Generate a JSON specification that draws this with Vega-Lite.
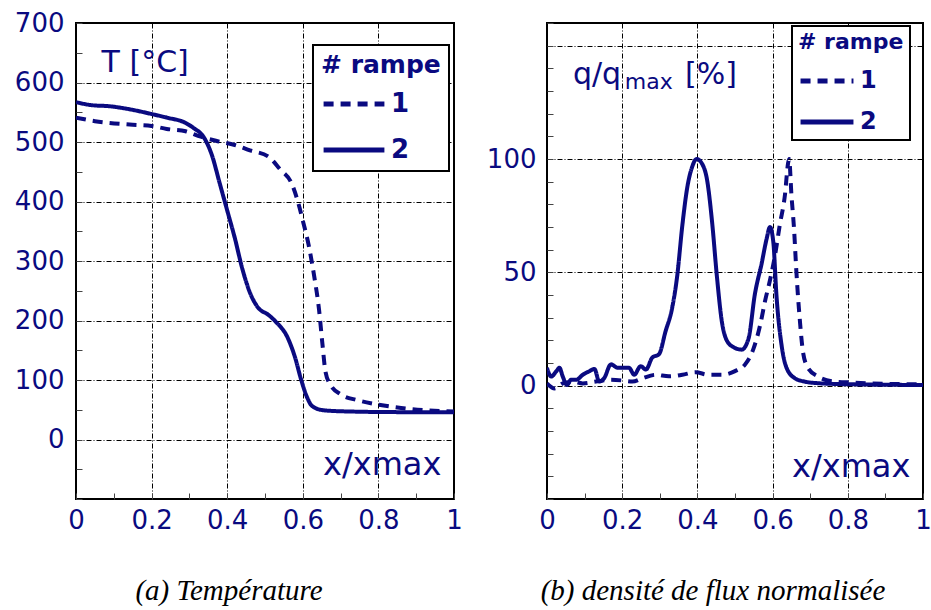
{
  "$schema": "https://vega.github.io/schema/vega-lite/v6.json",
  "background": "white",
  "padding": {"left": 13, "top": 9, "right": 5, "bottom": 5},
  "spacing": 93,
  "bounds": "flush",
  "datasets": {
    "temp": [
      {"x": 0, "T": 567, "rampe": "2"}, {"x": 0.04, "T": 562, "rampe": "2"}, {"x": 0.09, "T": 560, "rampe": "2"},
      {"x": 0.15, "T": 554, "rampe": "2"}, {"x": 0.2, "T": 547, "rampe": "2"}, {"x": 0.24, "T": 541, "rampe": "2"},
      {"x": 0.29, "T": 532, "rampe": "2"}, {"x": 0.31, "T": 524, "rampe": "2"}, {"x": 0.34, "T": 506, "rampe": "2"},
      {"x": 0.36, "T": 477, "rampe": "2"}, {"x": 0.38, "T": 431, "rampe": "2"}, {"x": 0.40, "T": 385, "rampe": "2"},
      {"x": 0.42, "T": 339, "rampe": "2"}, {"x": 0.44, "T": 287, "rampe": "2"}, {"x": 0.46, "T": 247, "rampe": "2"},
      {"x": 0.48, "T": 223, "rampe": "2"}, {"x": 0.51, "T": 209, "rampe": "2"}, {"x": 0.53, "T": 197, "rampe": "2"},
      {"x": 0.56, "T": 171, "rampe": "2"}, {"x": 0.58, "T": 137, "rampe": "2"}, {"x": 0.595, "T": 102, "rampe": "2"},
      {"x": 0.61, "T": 73, "rampe": "2"}, {"x": 0.625, "T": 56, "rampe": "2"}, {"x": 0.656, "T": 49, "rampe": "2"},
      {"x": 0.727, "T": 47, "rampe": "2"}, {"x": 0.86, "T": 46, "rampe": "2"}, {"x": 1.0, "T": 46, "rampe": "2"},
      {"x": 0, "T": 541, "rampe": "1"}, {"x": 0.05, "T": 535, "rampe": "1"}, {"x": 0.15, "T": 529, "rampe": "1"},
      {"x": 0.2, "T": 527, "rampe": "1"}, {"x": 0.24, "T": 522, "rampe": "1"}, {"x": 0.29, "T": 518, "rampe": "1"},
      {"x": 0.33, "T": 509, "rampe": "1"}, {"x": 0.37, "T": 502, "rampe": "1"}, {"x": 0.42, "T": 495, "rampe": "1"},
      {"x": 0.46, "T": 486, "rampe": "1"}, {"x": 0.51, "T": 475, "rampe": "1"}, {"x": 0.54, "T": 454, "rampe": "1"},
      {"x": 0.57, "T": 431, "rampe": "1"}, {"x": 0.586, "T": 402, "rampe": "1"}, {"x": 0.6, "T": 368, "rampe": "1"},
      {"x": 0.617, "T": 322, "rampe": "1"}, {"x": 0.63, "T": 275, "rampe": "1"}, {"x": 0.643, "T": 218, "rampe": "1"},
      {"x": 0.652, "T": 160, "rampe": "1"}, {"x": 0.66, "T": 114, "rampe": "1"}, {"x": 0.674, "T": 91, "rampe": "1"},
      {"x": 0.70, "T": 76, "rampe": "1"}, {"x": 0.745, "T": 66, "rampe": "1"}, {"x": 0.797, "T": 59, "rampe": "1"},
      {"x": 0.86, "T": 53, "rampe": "1"}, {"x": 0.93, "T": 49, "rampe": "1"}, {"x": 1.0, "T": 47, "rampe": "1"}
    ],
    "flux": [
      {"x": 0, "q": 7.9, "rampe": "2"}, {"x": 0.011, "q": 4, "rampe": "2"}, {"x": 0.025, "q": 6.4, "rampe": "2"},
      {"x": 0.033, "q": 7.9, "rampe": "2"}, {"x": 0.042, "q": 4, "rampe": "2"}, {"x": 0.053, "q": 0.3, "rampe": "2"},
      {"x": 0.064, "q": 2.6, "rampe": "2"}, {"x": 0.078, "q": 2.6, "rampe": "2"}, {"x": 0.095, "q": 4.8, "rampe": "2"},
      {"x": 0.113, "q": 6.4, "rampe": "2"}, {"x": 0.126, "q": 7.4, "rampe": "2"}, {"x": 0.139, "q": 1.8, "rampe": "2"},
      {"x": 0.152, "q": 3.3, "rampe": "2"}, {"x": 0.17, "q": 9.4, "rampe": "2"}, {"x": 0.188, "q": 7.9, "rampe": "2"},
      {"x": 0.205, "q": 7.9, "rampe": "2"}, {"x": 0.218, "q": 7.9, "rampe": "2"}, {"x": 0.232, "q": 4.8, "rampe": "2"},
      {"x": 0.249, "q": 8.6, "rampe": "2"}, {"x": 0.263, "q": 7.1, "rampe": "2"}, {"x": 0.28, "q": 12.4, "rampe": "2"},
      {"x": 0.298, "q": 13.9, "rampe": "2"}, {"x": 0.315, "q": 23.8, "rampe": "2"}, {"x": 0.333, "q": 34.4, "rampe": "2"},
      {"x": 0.346, "q": 48, "rampe": "2"}, {"x": 0.36, "q": 70.8, "rampe": "2"}, {"x": 0.373, "q": 87.4, "rampe": "2"},
      {"x": 0.386, "q": 96.5, "rampe": "2"}, {"x": 0.398, "q": 100, "rampe": "2"}, {"x": 0.412, "q": 98, "rampe": "2"},
      {"x": 0.426, "q": 90.5, "rampe": "2"}, {"x": 0.439, "q": 72.3, "rampe": "2"}, {"x": 0.452, "q": 48, "rampe": "2"},
      {"x": 0.465, "q": 28.3, "rampe": "2"}, {"x": 0.478, "q": 20, "rampe": "2"}, {"x": 0.496, "q": 17, "rampe": "2"},
      {"x": 0.518, "q": 15.9, "rampe": "2"}, {"x": 0.536, "q": 20.8, "rampe": "2"}, {"x": 0.553, "q": 40.5, "rampe": "2"},
      {"x": 0.571, "q": 54, "rampe": "2"}, {"x": 0.584, "q": 64.7, "rampe": "2"}, {"x": 0.593, "q": 70, "rampe": "2"},
      {"x": 0.602, "q": 63.2, "rampe": "2"}, {"x": 0.61, "q": 40.5, "rampe": "2"}, {"x": 0.624, "q": 17.7, "rampe": "2"},
      {"x": 0.637, "q": 7.9, "rampe": "2"}, {"x": 0.659, "q": 3.3, "rampe": "2"}, {"x": 0.685, "q": 1.8, "rampe": "2"},
      {"x": 0.72, "q": 1.1, "rampe": "2"}, {"x": 0.81, "q": 0.6, "rampe": "2"}, {"x": 1.0, "q": 0.3, "rampe": "2"},
      {"x": 0, "q": 1, "rampe": "1"}, {"x": 0.02, "q": -1.2, "rampe": "1"}, {"x": 0.042, "q": 1, "rampe": "1"},
      {"x": 0.069, "q": 1.8, "rampe": "1"}, {"x": 0.095, "q": 1, "rampe": "1"}, {"x": 0.13, "q": 1.8, "rampe": "1"},
      {"x": 0.166, "q": 2.6, "rampe": "1"}, {"x": 0.2, "q": 2.3, "rampe": "1"}, {"x": 0.227, "q": 1.8, "rampe": "1"},
      {"x": 0.254, "q": 3.3, "rampe": "1"}, {"x": 0.289, "q": 4.8, "rampe": "1"}, {"x": 0.324, "q": 4.1, "rampe": "1"},
      {"x": 0.36, "q": 4.8, "rampe": "1"}, {"x": 0.395, "q": 5.9, "rampe": "1"}, {"x": 0.43, "q": 4.8, "rampe": "1"},
      {"x": 0.465, "q": 4.8, "rampe": "1"}, {"x": 0.5, "q": 6.4, "rampe": "1"}, {"x": 0.527, "q": 9.4, "rampe": "1"},
      {"x": 0.549, "q": 16.2, "rampe": "1"}, {"x": 0.567, "q": 26.8, "rampe": "1"}, {"x": 0.58, "q": 37.4, "rampe": "1"},
      {"x": 0.593, "q": 46.5, "rampe": "1"}, {"x": 0.606, "q": 57.1, "rampe": "1"}, {"x": 0.619, "q": 70.8, "rampe": "1"},
      {"x": 0.633, "q": 84.4, "rampe": "1"}, {"x": 0.641, "q": 98, "rampe": "1"}, {"x": 0.644, "q": 100, "rampe": "1"},
      {"x": 0.65, "q": 84.4, "rampe": "1"}, {"x": 0.657, "q": 69.2, "rampe": "1"}, {"x": 0.663, "q": 51, "rampe": "1"},
      {"x": 0.672, "q": 29.8, "rampe": "1"}, {"x": 0.681, "q": 14.7, "rampe": "1"}, {"x": 0.694, "q": 7.9, "rampe": "1"},
      {"x": 0.72, "q": 4.1, "rampe": "1"}, {"x": 0.765, "q": 1.8, "rampe": "1"}, {"x": 0.81, "q": 1.4, "rampe": "1"},
      {"x": 0.897, "q": 0.8, "rampe": "1"}, {"x": 1.0, "q": 0.6, "rampe": "1"}
    ]
  },
  "hconcat": [
    {
      "width": 378,
      "height": 476,
      "title": {"text": "(a) Température", "orient": "bottom", "anchor": "middle", "dx": -36, "offset": 44, "font": "Liberation Serif", "fontStyle": "italic", "fontWeight": "normal", "fontSize": 29, "color": "black"},
      "layer": [
        {
          "data": {"name": "temp"},
          "mark": {"type": "line", "color": "#0a0a80", "strokeWidth": 4, "clip": true, "interpolate": "monotone"},
          "encoding": {
            "x": {"field": "x", "type": "quantitative", "scale": {"domain": [0, 1], "nice": false},
              "axis": {"title": null, "values": [0, 0.1, 0.2, 0.3, 0.4, 0.5, 0.6, 0.7, 0.8, 0.9, 1], "tickCount": 50,
                "labelExpr": "round(datum.value*10) % 2 === 0 ? '' + datum.value : ''",
                "gridOpacity": {"condition": {"test": "round(datum.value*10) % 2 === 0", "value": 1}, "value": 0},
                "labelOverlap": false, "labelFlush": false, "labelPadding": 14}},
            "y": {"field": "T", "type": "quantitative", "scale": {"domain": [-100, 700], "nice": false, "zero": false},
              "axis": {"title": null, "values": [-100, -50, 0, 50, 100, 150, 200, 250, 300, 350, 400, 450, 500, 550, 600, 650, 700], "tickCount": 50,
                "labelExpr": "datum.value >= 0 && datum.value % 100 === 0 ? '' + datum.value : ''",
                "gridOpacity": {"condition": {"test": "datum.value % 100 === 0", "value": 1}, "value": 0},
                "labelOverlap": false, "labelFlush": false, "labelPadding": 18}},
            "strokeDash": {"field": "rampe", "type": "nominal", "scale": {"domain": ["1", "2"], "range": [[10, 7], [1, 0]]},
              "legend": {"orient": "none", "legendX": 237, "legendY": 22, "title": "# rampe", "titleFontSize": 25, "titleFontWeight": "bold", "titleColor": "#0a0a80", "titleFont": "DejaVu Sans",
                "labelFontSize": 26, "labelFontWeight": "bold", "labelColor": "#0a0a80", "labelFont": "DejaVu Sans",
                "symbolType": "stroke", "symbolSize": 3700, "symbolStrokeWidth": 5, "symbolStrokeColor": "#0a0a80",
                "strokeColor": "black", "fillColor": "white", "padding": 8, "rowPadding": -4, "titlePadding": -7, "labelOffset": 4}}
          }
        },
        {
          "data": {"values": [{"label": "T [°C]"}]},
          "mark": {"type": "text", "font": "DejaVu Sans", "fontSize": 30, "color": "#0a0a80", "align": "center", "baseline": "middle"},
          "encoding": {"x": {"datum": 0.183}, "y": {"datum": 633}, "text": {"field": "label"}}
        },
        {
          "data": {"values": [{"label": "x/xmax"}]},
          "mark": {"type": "text", "font": "DejaVu Sans", "fontSize": 32, "color": "#0a0a80", "align": "center", "baseline": "middle"},
          "encoding": {"x": {"datum": 0.81}, "y": {"datum": -43}, "text": {"field": "label"}}
        }
      ]
    },
    {
      "width": 376,
      "height": 476,
      "title": {"text": "(b) densité de flux normalisée", "orient": "bottom", "anchor": "middle", "dx": -22, "offset": 44, "font": "Liberation Serif", "fontStyle": "italic", "fontWeight": "normal", "fontSize": 29, "color": "black"},
      "layer": [
        {
          "data": {"name": "flux"},
          "mark": {"type": "line", "color": "#0a0a80", "strokeWidth": 4, "clip": true, "interpolate": "monotone"},
          "encoding": {
            "x": {"field": "x", "type": "quantitative", "scale": {"domain": [0, 1], "nice": false},
              "axis": {"title": null, "values": [0, 0.1, 0.2, 0.3, 0.4, 0.5, 0.6, 0.7, 0.8, 0.9, 1], "tickCount": 50,
                "labelExpr": "round(datum.value*10) % 2 === 0 ? '' + datum.value : ''",
                "gridOpacity": {"condition": {"test": "round(datum.value*10) % 2 === 0", "value": 1}, "value": 0},
                "labelOverlap": false, "labelFlush": false, "labelPadding": 14}},
            "y": {"field": "q", "type": "quantitative", "scale": {"domain": [-50, 160], "nice": false, "zero": false},
              "axis": {"title": null, "values": [-50, -40, -30, -20, -10, 0, 10, 20, 30, 40, 50, 60, 70, 80, 90, 100, 110, 120, 130, 140, 150, 160], "tickCount": 50,
                "labelExpr": "datum.value === 0 || datum.value === 50 || datum.value === 100 ? '' + datum.value : ''",
                "gridOpacity": {"condition": {"test": "datum.value % 50 === 0", "value": 1}, "value": 0},
                "labelOverlap": false, "labelFlush": false, "labelPadding": 17}},
            "strokeDash": {"field": "rampe", "type": "nominal", "scale": {"domain": ["1", "2"], "range": [[10, 7], [1, 0]]},
              "legend": {"orient": "none", "legendX": 245, "legendY": 3, "title": "# rampe", "titleFontSize": 22, "titleFontWeight": "bold", "titleColor": "#0a0a80", "titleFont": "DejaVu Sans",
                "labelFontSize": 24, "labelFontWeight": "bold", "labelColor": "#0a0a80", "labelFont": "DejaVu Sans",
                "symbolType": "stroke", "symbolSize": 2800, "symbolStrokeWidth": 5, "symbolStrokeColor": "#0a0a80",
                "strokeColor": "black", "fillColor": "white", "padding": 6, "rowPadding": -6, "titlePadding": -2, "labelOffset": 4}}
          }
        },
        {
          "data": {"values": [{"label": "q/q"}]},
          "mark": {"type": "text", "font": "DejaVu Sans", "fontSize": 30, "color": "#0a0a80", "align": "left", "baseline": "middle"},
          "encoding": {"x": {"datum": 0.069}, "y": {"datum": 137}, "text": {"field": "label"}}
        },
        {
          "data": {"values": [{"label": "max"}]},
          "mark": {"type": "text", "font": "DejaVu Sans", "fontSize": 22, "color": "#0a0a80", "align": "left", "baseline": "middle"},
          "encoding": {"x": {"datum": 0.207}, "y": {"datum": 134}, "text": {"field": "label"}}
        },
        {
          "data": {"values": [{"label": "[%]"}]},
          "mark": {"type": "text", "font": "DejaVu Sans", "fontSize": 30, "color": "#0a0a80", "align": "left", "baseline": "middle"},
          "encoding": {"x": {"datum": 0.367}, "y": {"datum": 137}, "text": {"field": "label"}}
        },
        {
          "data": {"values": [{"label": "x/xmax"}]},
          "mark": {"type": "text", "font": "DejaVu Sans", "fontSize": 32, "color": "#0a0a80", "align": "center", "baseline": "middle"},
          "encoding": {"x": {"datum": 0.809}, "y": {"datum": -36}, "text": {"field": "label"}}
        }
      ]
    }
  ],
  "resolve": {"scale": {"strokeDash": "independent"}, "legend": {"strokeDash": "independent"}},
  "config": {
    "view": {"stroke": "black", "strokeWidth": 2},
    "font": "DejaVu Sans",
    "axis": {"domain": false, "labelFont": "DejaVu Sans", "labelFontSize": 26, "labelColor": "#0a0a80",
      "gridColor": "black", "gridDash": [5, 2, 1, 2], "gridWidth": 1,
      "tickColor": "#444", "tickSize": -6, "tickWidth": 1},
    "legend": {"strokeWidth": 2}
  }
}
